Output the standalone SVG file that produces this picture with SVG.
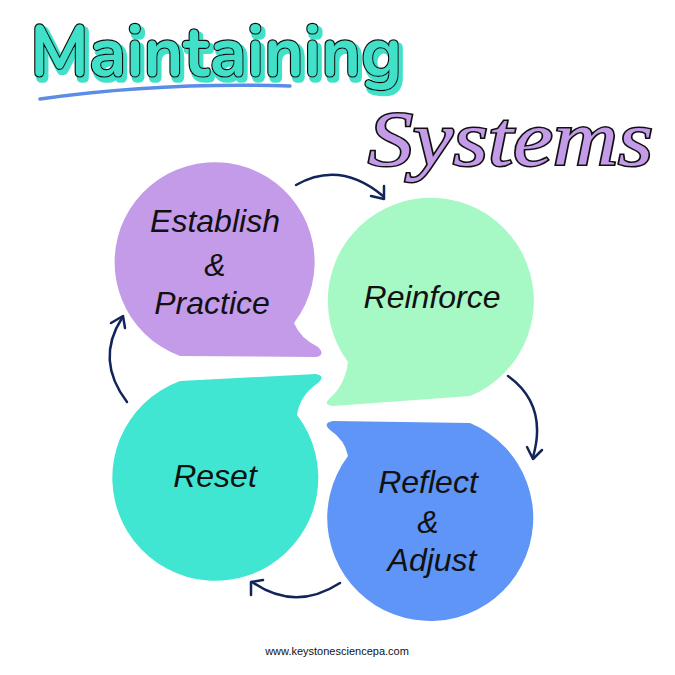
<svg xmlns="http://www.w3.org/2000/svg" width="675" height="675" viewBox="0 0 675 675">
<style>
.lbl{font-family:"Liberation Sans",Arial,sans-serif;font-style:italic;font-size:32px;fill:#111;text-anchor:middle}
.arr{fill:none;stroke:#13245a;stroke-width:2.5;stroke-linecap:round;stroke-linejoin:round}
</style>
<defs>
<filter id="sh" x="-5%" y="-20%" width="115%" height="150%">
<feMorphology in="SourceAlpha" operator="dilate" radius="1" result="d"/>
<feOffset in="d" dx="3" dy="4" result="o"/>
<feFlood flood-color="#3fe0c9"/>
<feComposite in2="o" operator="in" result="s"/>
<feMerge><feMergeNode in="s"/><feMergeNode in="SourceGraphic"/></feMerge>
</filter>
</defs>
<rect width="675" height="675" fill="#fff"/>
<g id="title">
<text x="30" y="76" filter="url(#sh)" font-family="Nunito,'DejaVu Sans',sans-serif" font-weight="bold" font-size="72" textLength="372" lengthAdjust="spacingAndGlyphs" fill="#3fe0c9" stroke="#111" stroke-width="2.5" paint-order="stroke">Maintaining</text>
<path d="M40 99 Q160 82 290 86" fill="none" stroke="#5b8ce8" stroke-width="3.5" stroke-linecap="round"/>
<text x="368" y="165" font-family="'Liberation Serif',serif" font-style="italic" font-size="78" textLength="285" lengthAdjust="spacingAndGlyphs" fill="#c49be8" stroke="#111" stroke-width="3" paint-order="stroke">Systems</text>
</g>
<g id="connectors">
<path class="arr" d="M296 185 Q340 160 383 196"/><path class="arr" d="M371 196 L384 199 L384 186"/>
<path class="arr" d="M508 376 Q548 405 533 457"/><path class="arr" d="M527 447 L533 459 L542 450"/>
<path class="arr" d="M340 583 Q295 612 252 582"/><path class="arr" d="M251 595 L251 582 L263 580"/>
<path class="arr" d="M127 402 Q95 360 122 318"/><path class="arr" d="M111 323 L123 316 L125 328"/>
</g>
<g id="establish">
<path d="M294 323 A100 100 0 1 0 180 356 L316 357 Q326 355 318 347 Q300 338 294 323 Z" fill="#c49be8"/>
<text class="lbl" x="215" y="232">Establish</text><text class="lbl" x="215" y="276">&amp;</text><text class="lbl" x="212" y="314">Practice</text>
</g>
<g id="reinforce">
<path d="M348 362 A103 103 0 1 1 470 396 L333 406 Q322 405 330 398 Q345 385 348 362 Z" fill="#a6f8c4"/>
<text class="lbl" x="432" y="308">Reinforce</text>
</g>
<g id="reset">
<path d="M297 415 A103 103 0 1 1 180 381 L316 374 Q326 376 318 383 Q300 395 297 415 Z" fill="#41e6d2"/>
<text class="lbl" x="215" y="487">Reset</text>
</g>
<g id="reflect">
<path d="M348 456 A103 103 0 1 0 470 423 L333 421 Q322 423 330 430 Q345 440 348 456 Z" fill="#5e95f6"/>
<text class="lbl" x="428" y="493">Reflect</text><text class="lbl" x="428" y="533">&amp;</text><text class="lbl" x="432" y="571">Adjust</text>
</g>
<text x="337" y="655" font-family="'Liberation Sans',Arial,sans-serif" font-size="11" fill="#111" text-anchor="middle">www.keystonesciencepa.com</text>
</svg>
